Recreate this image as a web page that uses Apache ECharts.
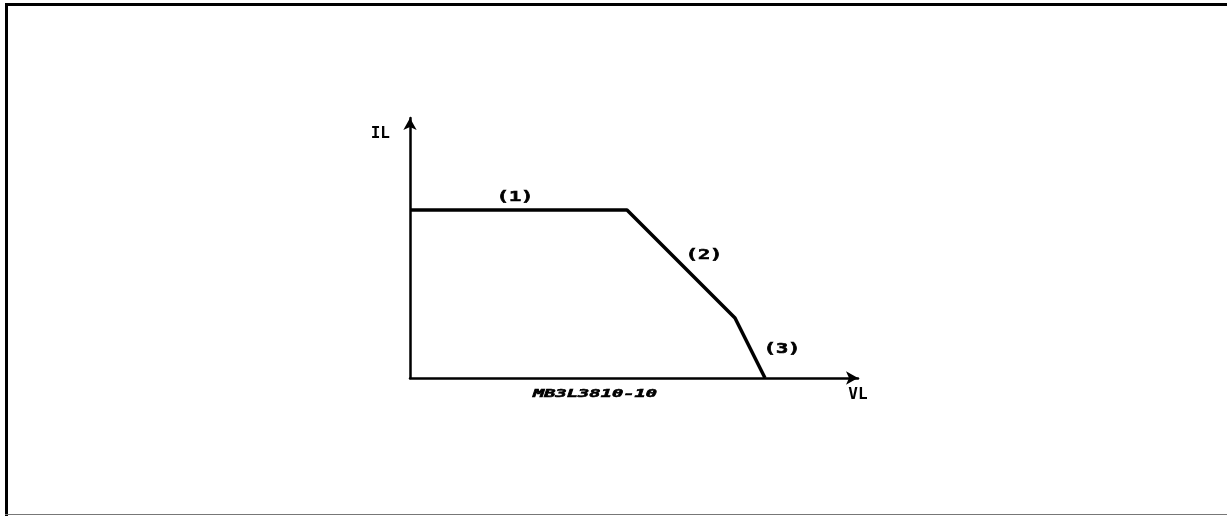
<!DOCTYPE html>
<html>
<head>
<meta charset="utf-8">
<script src="https://cdn.jsdelivr.net/npm/echarts@6/dist/echarts.min.js"></script>
<style>
html,body{margin:0;padding:0;background:#fff;}
#chart{width:1227px;height:516px;}
</style>
</head>
<body>
<div id="chart"></div>
<script>
// Curve breakpoints (VL, IL) in arbitrary units
const curveVL = [0, 217, 325, 355];
const curveIL = [168, 168, 60, 0];
// Segment labels and their anchor positions
const segLabels = ['(1)', '(2)', '(3)'];
const segLabelVL = [105, 294, 372];
const segLabelIL = [181, 123, 29];
const axisNameX = 'VL';
const axisNameY = 'IL';
const figureId = 'MB3L3810-10';
const figureIdVL = 185;
const figureIdIL = -16;

const chart = echarts.init(document.getElementById('chart'));
const mono = '"DejaVu Sans Mono", "Liberation Mono", monospace';

function textSeries(texts, xs, ys, font, sx) {
  return {
    type: 'custom',
    clip: false,
    data: texts.map((t, i) => [xs[i], ys[i], t]),
    renderItem: function (params, api) {
      const p = api.coord([api.value(0), api.value(1)]);
      return {
        type: 'text',
        x: p[0], y: p[1], scaleX: sx, scaleY: 1,
        style: { text: texts[params.dataIndex], font: font, fill: '#000', stroke: '#000', lineWidth: 0.6,
          align: 'center', verticalAlign: 'middle' }
      };
    },
    z: 5
  };
}

const option = {
  animation: false,
  backgroundColor: '#fff',
  grid: { left: 410, top: 118, width: 448, height: 260 },
  xAxis: {
    type: 'value', min: 0, max: 448,
    axisLine: { show: true, onZero: false, symbol: ['none', 'arrow'], symbolSize: [10, 12], symbolOffset: [0, 0],
      lineStyle: { color: '#000', width: 2.5 } },
    axisTick: { show: false }, axisLabel: { show: false }, splitLine: { show: false },
    name: axisNameX, nameLocation: 'end', nameGap: 0,
    nameTextStyle: { fontFamily: mono, fontWeight: 'bold', fontSize: 16, color: '#000',
      align: 'center', verticalAlign: 'top', padding: [9, 0, 0, 0] }
  },
  yAxis: {
    type: 'value', min: 0, max: 260,
    axisLine: { show: true, onZero: false, symbol: ['none', 'arrow'], symbolSize: [10, 12], symbolOffset: [0, 0],
      lineStyle: { color: '#000', width: 2.5 } },
    axisTick: { show: false }, axisLabel: { show: false }, splitLine: { show: false },
    name: axisNameY, nameLocation: 'end', nameGap: 0,
    nameTextStyle: { fontFamily: mono, fontWeight: 'bold', fontSize: 16, color: '#000',
      align: 'right', verticalAlign: 'top', padding: [8, 20, 0, 0] }
  },
  series: [
    {
      type: 'line',
      data: curveVL.map((v, i) => [v, curveIL[i]]),
      showSymbol: false,
      lineStyle: { color: '#000', width: 3.5 },
      z: 3
    },
    textSeries(segLabels, segLabelVL, segLabelIL, 'bold 14px ' + mono, 1.45),
    textSeries([figureId], [figureIdVL], [figureIdIL], 'italic bold 11px ' + mono, 1.7)
  ],
  graphic: [
    { type: 'rect', shape: { x: 5, y: 3, width: 1240, height: 3 }, style: { fill: '#000' }, silent: true },
    { type: 'rect', shape: { x: 5, y: 3, width: 3, height: 520 }, style: { fill: '#000' }, silent: true },
    { type: 'rect', shape: { x: 5, y: 514, width: 1240, height: 1 }, style: { fill: '#777' }, silent: true }
  ]
};
chart.setOption(option);
</script>
</body>
</html>
